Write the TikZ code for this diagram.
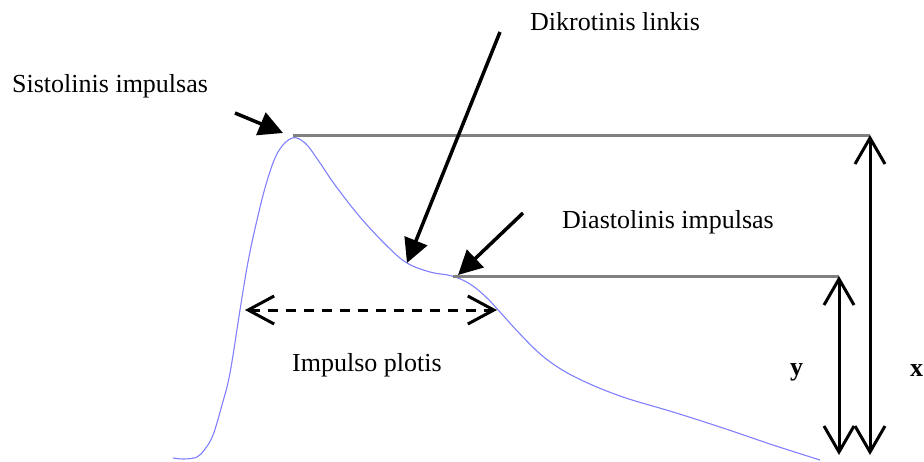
\documentclass[tikz,border=0pt]{standalone}
\usepackage{fontspec}
\setmainfont{Liberation Serif}
\usetikzlibrary{arrows.meta}
\definecolor{curveblue}{RGB}{128,128,255}
\definecolor{refgray}{RGB}{128,128,128}
\tikzset{
  lbl/.style={inner sep=0pt, font=\fontsize{26}{30}\selectfont},
  pointer/.style={line width=3.5pt, -{Triangle[length=24pt,width=24pt]}},
  dimarrow/.style={line width=3pt, {Straight Barb[length=26pt,width=30pt]}-{Straight Barb[length=26pt,width=30pt]}},
  widtharrow/.style={line width=3pt, dash pattern=on 10pt off 8pt, {Straight Barb[length=26pt,width=28pt]}-{Straight Barb[length=26pt,width=28pt]}},
  levelline/.style={draw=refgray, line width=3pt},
  pulse/.style={draw=curveblue, line width=1.1pt}
}
\begin{document}
\begin{tikzpicture}[x=1pt,y=-1pt]
\useasboundingbox (0,0) rectangle (924,461);
% pulse curve
\draw[pulse] plot[smooth, tension=0.6] coordinates {
 (173,458) (184,459) (197,457) (205,449) (213,435) (222,405) (230,373)
 (240,310) (248,262) (257,220) (267,181) (278,152) (292,138)
 (305,143) (318,160) (335,185) (360,217) (387,246)
 (407,263) (430,272) (452,276) (470,284) (486,297) (500,312)
 (520,334) (545,358) (575,377) (620,396) (673,412) (723,428)
 (773,445) (820,460)};
% key coordinates
\coordinate (sysTip) at (283,133);
\coordinate (sysTail) at (235,113);
\coordinate (dikTip) at (407,263);
\coordinate (dikTail) at (500,32);
\coordinate (diaTip) at (458,275);
\coordinate (diaTail) at (523,213);
\coordinate (topL) at (293,135);
\coordinate (topR) at (870,135);
\coordinate (midL) at (453,276);
\coordinate (midR) at (839,276);
\coordinate (xBot) at (870,455);
\coordinate (yBot) at (839,455);
\coordinate (wL) at (245,310);
\coordinate (wR) at (497,310);
% level lines
\draw[levelline] (topL) -- (topR);
\draw[levelline] (midL) -- (midR);
% labels
\node[lbl, anchor=base west] (sys) at (12,92) {Sistolinis impulsas};
\node[lbl, anchor=base west] (dik) at (530,30) {Dikrotinis linkis};
\node[lbl, anchor=base west] (dia) at (562,228) {Diastolinis impulsas};
\node[lbl, anchor=base west] (imp) at (292,371) {Impulso plotis};
\node[lbl, anchor=base west] (ylab) at (790,375) {\textbf{y}};
\node[lbl, anchor=base west] (xlab) at (910,376) {\textbf{x}};
% pointers
\draw[pointer] (sysTail) -- (sysTip);
\draw[pointer] (dikTail) -- (dikTip);
\draw[pointer] (diaTail) -- (diaTip);
% dimension arrows
\draw[dimarrow] (xBot) -- (topR);
\draw[dimarrow] (yBot) -- (midR);
\draw[widtharrow] (wL) -- (wR);
\end{tikzpicture}
\end{document}
